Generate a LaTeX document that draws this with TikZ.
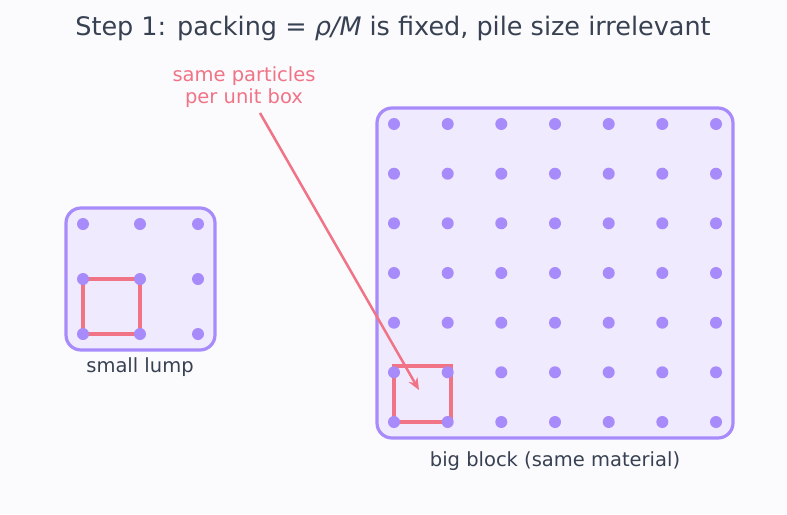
\documentclass[tikz,border=0pt]{standalone}
\usepackage{fontspec}
\usetikzlibrary{arrows.meta}
\setmainfont{DejaVu Sans}
\definecolor{bg}{HTML}{FBFBFE}
\definecolor{txt}{HTML}{374151}
\definecolor{pinkc}{HTML}{F07386}
\definecolor{purp}{HTML}{A78BFA}
\definecolor{purpfill}{HTML}{F0EAFE}
\tikzset{
  pile/.style={draw=purp, fill=purpfill, line width=3.2pt, rounded corners=15pt},
  dot/.style={circle, fill=purp, inner sep=0pt, minimum size=12pt},
  unitbox/.style={draw=pinkc, line width=3.2pt},
  lbl/.style={text=txt, font=\fontsize{19.5}{22}\selectfont},
}
\begin{document}
\begin{tikzpicture}[x=1pt,y=-1pt]
\fill[bg] (0,0) rectangle (787,514);
\useasboundingbox (0,0) rectangle (787,514);
\node[text=txt, font=\fontsize{25.5}{30}\selectfont] (title) at (393,28) {Step 1: packing = {\itshape ρ/M} is fixed, pile size irrelevant};
% small lump
\draw[pile] (66,208) rectangle (215,350);
\draw[unitbox] (83,279) rectangle (140,334);
\foreach \i/\x in {1/83,2/140,3/198}{
  \foreach \j/\y in {1/224,2/279,3/334}{
    \node[dot] (s\i\j) at (\x,\y) {};
  }
}
\node[lbl] (slabel) at (140,367) {small lump};
% big block
\draw[pile] (377,108) rectangle (733,438);
\draw[unitbox] (394,366) rectangle (451,422);
\foreach \i/\x in {1/394,2/447.7,3/501.3,4/555,5/608.7,6/662.3,7/716}{
  \foreach \j/\y in {1/124,2/173.7,3/223.3,4/273,5/322.7,6/372.3,7/422}{
    \node[dot] (b\i\j) at (\x,\y) {};
  }
}
\node[lbl] (blabel) at (555,461) {big block (same material)};
% annotation
\node[text=pinkc, font=\fontsize{19.5}{22}\selectfont, align=center] (ann) at (244,87) {same particles\\per unit box};
\coordinate (start) at (260,113);
\coordinate (tip) at (419,390);
\draw[pinkc, line width=2.5pt, -{Stealth[length=12pt,width=10pt]}] (start) -- (tip);
\end{tikzpicture}
\end{document}
